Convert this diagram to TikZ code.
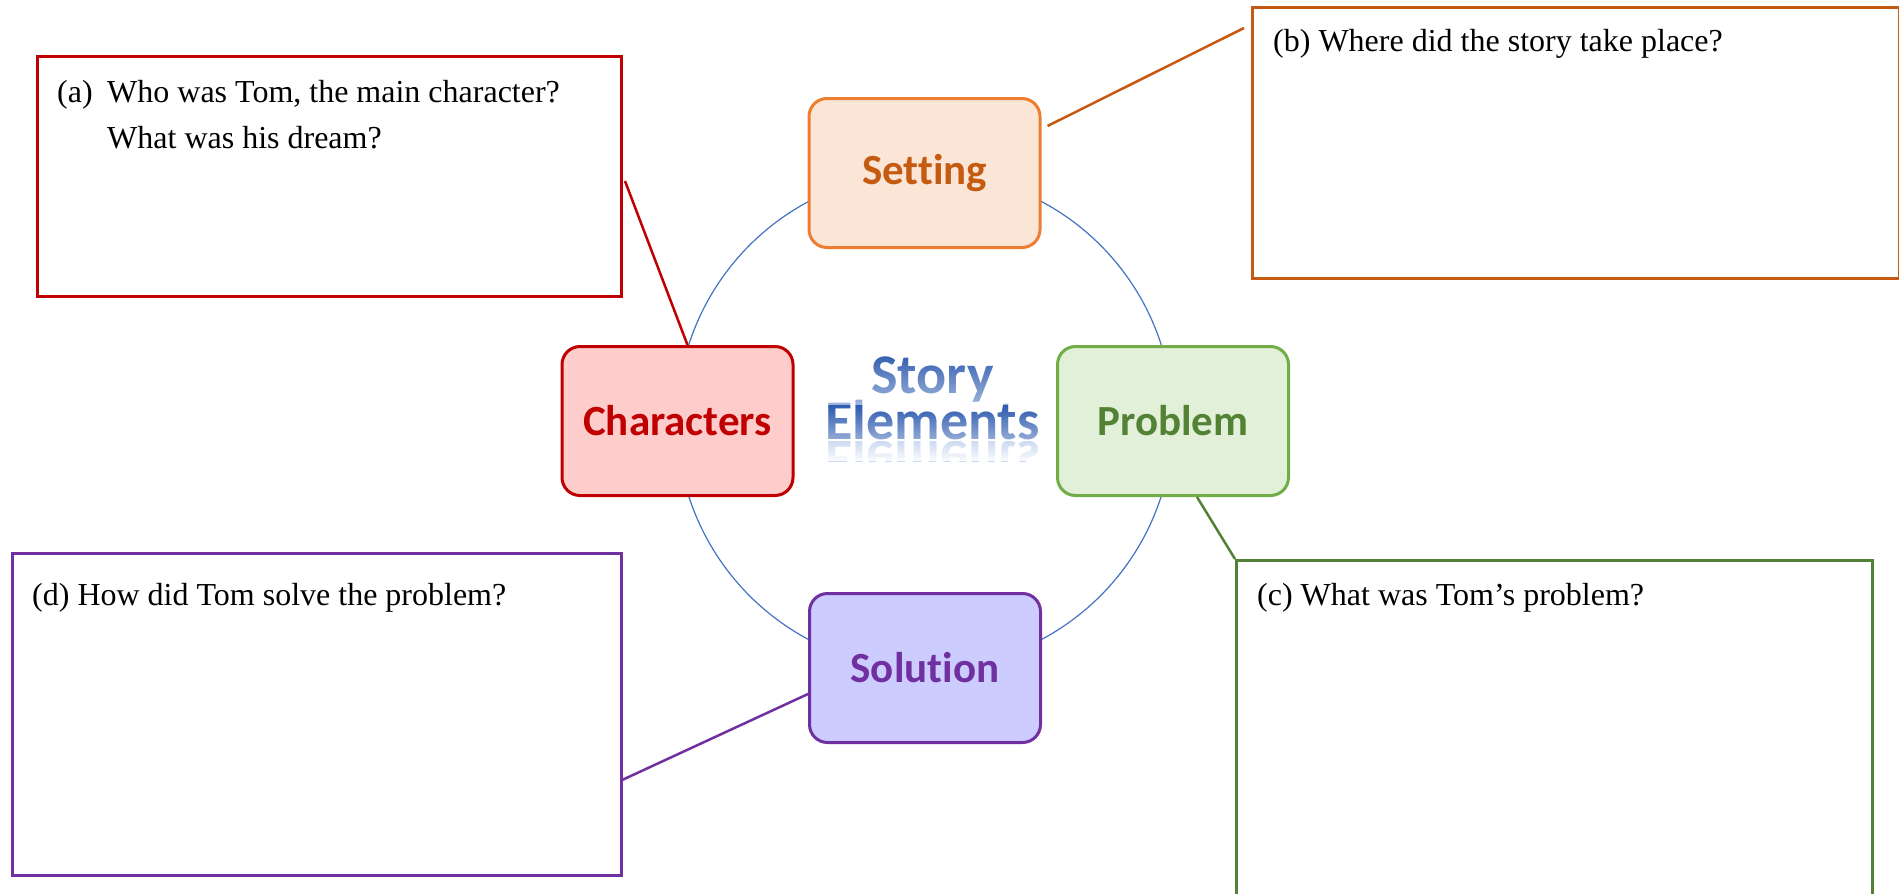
\documentclass[tikz,border=0pt]{standalone}
\usepackage{fontspec}
\setmainfont{Liberation Serif}
\newfontfamily\calib{Carlito}[Ligatures=NoCommon]
\usetikzlibrary{calc,fadings}
\newcommand\negskip{\lineskiplimit=-100pt\relax}
\definecolor{setfill}{HTML}{FBE5D6}
\definecolor{setdraw}{HTML}{ED7D31}
\definecolor{settext}{HTML}{C55A11}
\definecolor{charfill}{HTML}{FFCCCC}
\definecolor{chardraw}{HTML}{C00000}
\definecolor{probfill}{HTML}{E2F0D9}
\definecolor{probdraw}{HTML}{70AD47}
\definecolor{probtext}{HTML}{548235}
\definecolor{solfill}{HTML}{CCCCFF}
\definecolor{soldraw}{HTML}{7030A0}
\definecolor{boxorange}{HTML}{C55A11}
\definecolor{boxgreen}{HTML}{538135}
\definecolor{circblue}{HTML}{4472C4}
\definecolor{storyblue}{HTML}{2D5BB0}
\definecolor{storylight}{HTML}{7FA2DD}
\begin{document}
\begin{tikzpicture}[x=1pt,y=-1pt,
  elem/.style={draw, line width=3pt, rounded corners=18pt, minimum width=231pt,
    minimum height=149pt, inner sep=0pt, font=\calib\bfseries\fontsize{43}{50}\selectfont},
  qbox/.style={draw, line width=3pt, rectangle, inner sep=0pt, anchor=north west},
  qtext/.style={anchor=base west, inner sep=0pt, font=\fontsize{32}{46}\selectfont},
  storytext/.style={inner sep=0pt, align=center,
    font=\calib\bfseries\fontsize{56}{46}\selectfont\negskip},
  link/.style={line width=2.5pt},
  lighten/.style={fill=white, draw=none, path fading=north}
]
\useasboundingbox (0,0) rectangle (1899,894);
\clip (0,0) rectangle (1899,894);
\fill[white] (0,0) rectangle (1899,894);

% ring
\coordinate (ctr) at (925,420.5);
\draw[circblue, line width=1.2pt] (ctr) circle[radius=248];

% element nodes
\node[elem, draw=setdraw, fill=setfill, text=settext] (setting) at (924.5,173) {Setting};
\node[elem, draw=chardraw, fill=charfill, text=chardraw] (char) at (677.5,421) {Characters};
\node[elem, draw=probdraw, fill=probfill, text=probtext] (prob) at (1173,421) {Problem};
\node[elem, draw=soldraw, fill=solfill, text=soldraw] (sol) at (925,668) {Solution};

% centre title with reflection
\begin{scope}
  \clip (810,441) rectangle (1055,461);
  \node[storytext, anchor=north, text=storylight!40!white] (titleref) at (932.5,441)
    {\scalebox{1}[-1]{Elements}};
\end{scope}
\fill[lighten, fill opacity=0.9] (810,441) rectangle (1055,461);
\node[storytext, anchor=south, text=storyblue] (title) at (932.5,440) {Story\\Elements};
\fill[lighten, fill opacity=0.55] (810,352) rectangle (1055,405);
\fill[lighten, fill opacity=0.5] (810,405) rectangle (1055,441);

% question boxes
\node[qbox, draw=chardraw, minimum width=584pt, minimum height=240pt] (boxa) at (36,54.5) {};
\node[qbox, draw=boxorange, minimum width=647pt, minimum height=271pt] (boxb) at (1251,6) {};
\node[qbox, draw=boxgreen, minimum width=636pt, minimum height=360pt] (boxc) at (1235,559) {};
\node[qbox, draw=soldraw, minimum width=609pt, minimum height=322pt] (boxd) at (11,552) {};

% question texts
\node[qtext] (ta0) at (57,102) {(a)};
\node[qtext] (ta1) at (107,102) {Who was Tom, the main character?};
\node[qtext] (ta2) at (107,148) {What was his dream?};
\node[qtext] (tb) at (1273,51) {(b) Where did the story take place?};
\node[qtext] (tc) at (1257,605) {(c) What was Tom’s problem?};
\node[qtext] (td) at (32,605) {(d) How did Tom solve the problem?};

% connectors
\draw[link, chardraw] ($(boxa.east)+(2,5)$) -- ($(char.north)+(10,0)$);
\draw[link, boxorange] ($(setting.east)+(6,-47)$) -- ($(boxb.north west)+(-7,22)$);
\draw[link, boxgreen] ($(prob.south)+(24,0)$) -- (boxc.north west);
\draw[link, soldraw] ($(sol.west)+(0,26)$) -- ($(boxd.east)+(-2,66)$);
\end{tikzpicture}
\end{document}
